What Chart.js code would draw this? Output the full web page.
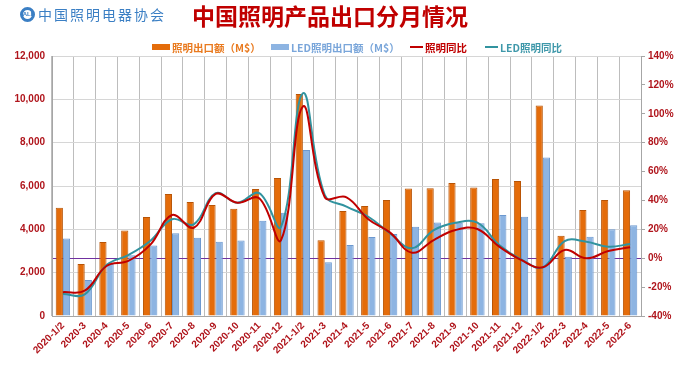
<!DOCTYPE html>
<html>
<head>
<meta charset="utf-8">
<script src="https://cdn.jsdelivr.net/npm/chart.js@4/dist/chart.umd.min.js"></script>
<style>
  body { margin: 0; background: #fff; }
  #wrap { position: relative; width: 679px; height: 371px; overflow: hidden; }
  canvas { position: absolute; left: 0; top: 0; }
  #logo { position: absolute; left: 20px; top: 3px; height: 22px; display: flex; align-items: center; }
  #logo .ring { width: 15px; height: 15px; border: 3px solid #3b7fc4; border-radius: 50%; box-sizing: border-box;
    font: bold 6px Arial, sans-serif; color: #3b7fc4; display: flex; align-items: center; justify-content: center; }
  #logo .name { margin-left: 3px; font: 14px "Noto Sans CJK SC", sans-serif; color: #3b7fc4; letter-spacing: 2px; }
  #title { position: absolute; left: 0; width: 660px; top: -2px; text-align: center;
    font: bold 23px "Noto Sans CJK SC", sans-serif; color: #c00000; }
  .leg { position: absolute; top: 39px; height: 16px; display: flex; align-items: center; white-space: nowrap;
    font: bold 10.5px "Noto Sans CJK SC", sans-serif; }
  .leg .mk { margin-right: 2px; }
</style>
</head>
<body>
<div id="wrap">
  <canvas id="myChart" width="679" height="371"></canvas>
  <div id="logo"><div class="ring">ALI</div><div class="name">中国照明电器协会</div></div>
  <div id="title">中国照明产品出口分月情况</div>
</div>
<script>
// months
const categories = ['2020-1/2', '2020-3', '2020-4', '2020-5', '2020-6', '2020-7', '2020-8', '2020-9', '2020-10', '2020-11', '2020-12',
  '2021-1/2', '2021-3', '2021-4', '2021-5', '2021-6', '2021-7', '2021-8', '2021-9', '2021-10', '2021-11', '2021-12',
  '2022-1/2', '2022-3', '2022-4', '2022-5', '2022-6'];

// export values, M$
const lightingExport = [5000, 2400, 3420, 3950, 4570, 5630, 5260, 5120, 4950, 5860, 6370,
  10250, 3500, 4850, 5080, 5350, 5890, 5900, 6140, 5930, 6320, 6230,
  9720, 3700, 4890, 5350, 5800];
const ledExport = [3580, 1660, 2400, 2800, 3250, 3820, 3610, 3430, 3480, 4400, 4760,
  7660, 2480, 3280, 3650, 3780, 4120, 4320, 4300, 4280, 4660, 4580,
  7310, 2740, 3660, 4000, 4190];

// year on year, %
const lightingYoY = [-23.5, -22.5, -5.4, -1.9, 9.2, 29.9, 21.1, 44.5, 38.4, 41.5, 12.6,
  105, 42.4, 42.2, 27, 17.7, 3.8, 12.6, 19.5, 20.2, 8, -1.2,
  -6.3, 5.7, -0.1, 5, 7.6];
const ledYoY = [-24.8, -25, -4.7, 2.2, 11.9, 27, 23.5, 45, 38.4, 45, 21.8,
  114.2, 43.8, 35.7, 28.7, 17.2, 6.9, 19.5, 24.6, 24.6, 9.2, -0.8,
  -6.3, 11.9, 11.4, 8, 9.8];

const leftTicks = [0, 2000, 4000, 6000, 8000, 10000, 12000];
const rightTicks = [-40, -20, 0, 20, 40, 60, 80, 100, 120, 140];

const axisRed = '#b0151c';

const datasets = [
  {
    type: 'bar', label: '照明出口额（M$）', data: lightingExport, yAxisID: 'y', order: 2,
    backgroundColor: '#e46c0a', borderColor: '#b85405', borderWidth: 1,
    categoryPercentage: 0.66, barPercentage: 1.0,
  },
  {
    type: 'bar', label: 'LED照明出口额（M$）', data: ledExport, yAxisID: 'y', order: 2,
    backgroundColor: '#8db4e2', borderColor: '#6c98cf', borderWidth: 1,
    categoryPercentage: 0.66, barPercentage: 1.0,
  },
  {
    type: 'line', label: '照明同比', data: lightingYoY, yAxisID: 'y1', order: 0,
    borderColor: '#c00000', backgroundColor: '#c00000', borderWidth: 2,
    pointRadius: 0, tension: 0.4,
  },
  {
    type: 'line', label: 'LED照明同比', data: ledYoY, yAxisID: 'y1', order: 1,
    borderColor: '#31939f', backgroundColor: '#31939f', borderWidth: 2,
    pointRadius: 0, tension: 0.4,
  },
];

// legend drawn as html so it sits where the original one does
const legendLeft = [152, 271, 410, 485];
const legendText = ['#e97a1f', '#7aa6da', '#c00000', '#3f98aa'];
const wrap = document.getElementById('wrap');
datasets.forEach((ds, i) => {
  const item = document.createElement('div');
  item.className = 'leg';
  item.style.left = legendLeft[i] + 'px';
  item.style.color = legendText[i];
  const mk = document.createElement('span');
  mk.className = 'mk';
  if (ds.type === 'bar') {
    mk.style.cssText = `display:inline-block;width:18px;height:6px;background:${ds.backgroundColor}`;
  } else {
    mk.style.cssText = `display:inline-block;width:13px;height:2px;background:${ds.borderColor}`;
  }
  item.appendChild(mk);
  item.appendChild(document.createTextNode(ds.label));
  wrap.appendChild(item);
});

const ctx = document.getElementById('myChart').getContext('2d');
new Chart(ctx, {
  data: { labels: categories, datasets: datasets },
  options: {
    responsive: false,
    animation: false,
    layout: { padding: { left: 0, right: 0, top: 56, bottom: 0 } },
    plugins: {
      tooltip: { enabled: false },
      legend: { display: false },
    },
    scales: {
      x: {
        grid: { color: '#bdbdbd', drawTicks: false },
        border: { color: '#a6a6a6' },
        ticks: {
          color: axisRed, maxRotation: 45, minRotation: 45, padding: 4,
          font: { size: 10, weight: 'bold', family: 'Arial, sans-serif' },
        },
        afterFit: s => { s.height = 55; },
      },
      y: {
        position: 'left',
        min: leftTicks[0], max: leftTicks[leftTicks.length - 1],
        afterBuildTicks: s => { s.ticks = leftTicks.map(v => ({ value: v })); },
        grid: { color: '#d6d6d6', drawTicks: false },
        border: { color: '#a6a6a6' },
        ticks: {
          color: axisRed, padding: 7,
          font: { size: 10, weight: 'bold', family: 'Arial, sans-serif' },
          callback: v => v.toLocaleString('en-US'),
        },
        afterFit: s => { s.width = 52; },
      },
      y1: {
        position: 'right',
        min: rightTicks[0], max: rightTicks[rightTicks.length - 1],
        afterBuildTicks: s => { s.ticks = rightTicks.map(v => ({ value: v })); },
        grid: {
          drawOnChartArea: true, tickLength: 4, tickColor: '#a6a6a6',
          color: c => (c.tick && c.tick.value === 0 ? '#7030a0' : 'rgba(0,0,0,0)'),
        },
        border: { color: '#a6a6a6' },
        ticks: {
          color: axisRed, padding: 3,
          font: { size: 10, weight: 'bold', family: 'Arial, sans-serif' },
          callback: v => v + '%',
        },
        afterFit: s => { s.width = 38; },
      },
    },
  },
});
</script>
</body>
</html>
